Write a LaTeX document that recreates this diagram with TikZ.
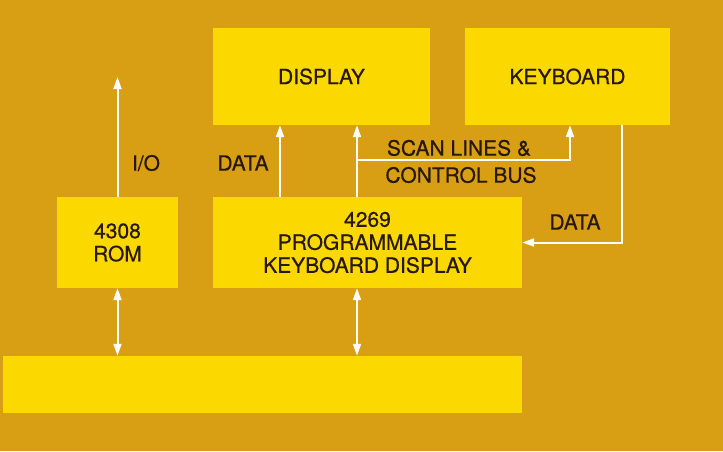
\documentclass[tikz,border=0pt]{standalone}
\usepackage{fontspec}
\setmainfont{TeX Gyre Heros}
\newfontfamily\medfont{TeX Gyre Heros}[FakeBold=0.5]
\usetikzlibrary{arrows.meta}
\definecolor{bgc}{RGB}{216,158,20}
\definecolor{boxc}{RGB}{250,216,0}
\definecolor{txtc}{RGB}{40,24,12}
\tikzset{
  blk/.style={fill=boxc, draw=none, inner sep=0pt, text=txtc, align=center,
    font=\medfont\fontsize{21}{23}\selectfont},
  lbl/.style={text=txtc, inner sep=0pt, font=\medfont\fontsize{21}{23}\selectfont},
  wire/.style={white, line width=2pt},
  tip/.style={wire, -{Triangle[width=8pt,length=12pt]}},
  dtip/.style={wire, {Triangle[width=8pt,length=12pt]}-{Triangle[width=8pt,length=12pt]}}
}
\begin{document}
\begin{tikzpicture}[x=1pt,y=-1pt]
\fill[bgc] (0,0) rectangle (723,451);
\useasboundingbox (0,0) rectangle (723,451);
% blocks
\node[blk, minimum width=217pt, minimum height=97pt] (disp) at (321.5,76.5) {DISPLAY};
\node[blk, minimum width=205pt, minimum height=97pt] (keyb) at (567.5,76.5) {KEYBOARD};
\node[blk, minimum width=121pt, minimum height=91pt] (rom) at (117.5,242.5) {4308\\ROM};
\node[blk, minimum width=309pt, minimum height=91pt] (kdc) at (367.5,242.5) {4269\\PROGRAMMABLE\\KEYBOARD DISPLAY};
\node[blk, minimum width=519pt, minimum height=57pt] (bus) at (262.5,384.5) {};
% helper coordinates
\coordinate (iotip) at (117.5,77);
\coordinate (dx) at (280,0);
\coordinate (sx) at (357,0);
\coordinate (sy) at (0,160);
\coordinate (kx) at (570,0);
\coordinate (rx) at (622,0);
% connectors
\draw[tip] (rom.north) -- (iotip);
\draw[tip] (kdc.north -| dx) -- (disp.south -| dx);
\draw[tip] (kdc.north -| sx) -- (disp.south -| sx);
\draw[tip] (sx |- sy) -- (kx |- sy) -- (keyb.south -| kx);
\draw[tip] (keyb.south -| rx) -- (rx |- kdc.east) -- (kdc.east);
\draw[dtip] (rom.south) -- (bus.north -| rom.south);
\draw[dtip] (kdc.south -| sx) -- (bus.north -| sx);
% labels
\node[lbl] (lio) at (146,163) {I/O};
\node[lbl] (ldata1) at (243,163) {DATA};
\node[lbl] (lscan) at (459,148) {SCAN LINES \&};
\node[lbl] (lctrl) at (461,175) {CONTROL BUS};
\node[lbl] (ldata2) at (575,222) {DATA};
\end{tikzpicture}
\end{document}
